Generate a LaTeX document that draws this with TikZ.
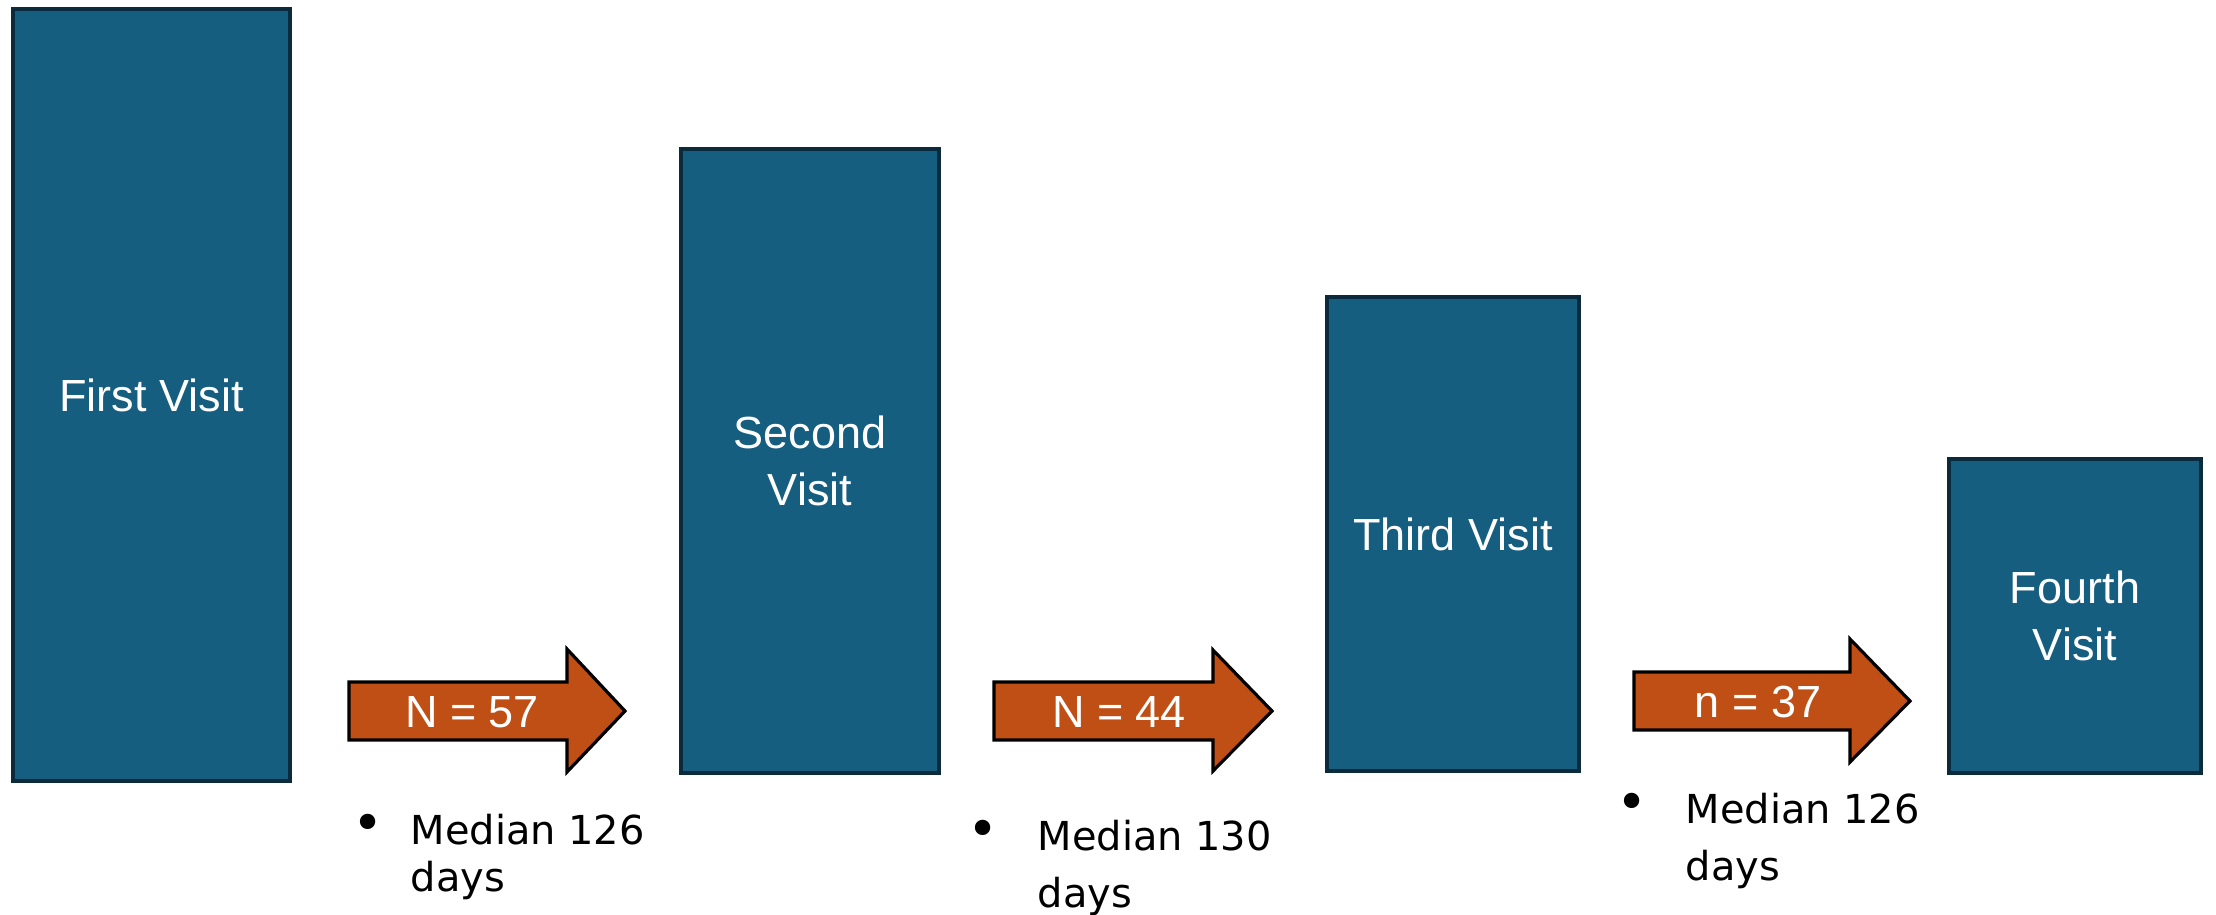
\documentclass[tikz,border=0pt]{standalone}
\usepackage{fontspec}
\setmainfont{Liberation Sans}
\newfontfamily\bulletfont{DejaVu Sans}
\definecolor{visitfill}{HTML}{165E80}
\definecolor{visitline}{HTML}{0B2A3C}
\definecolor{arrowfill}{HTML}{C04F15}
\tikzset{
  visit/.style={draw=visitline, fill=visitfill, line width=1.14pt, text=white,
    align=center, inner sep=0pt, font=\fontsize{12.8}{16.2}\selectfont},
  flowarrow/.style={draw=black, fill=arrowfill, line width=0.9pt, line join=miter},
  arrowlabel/.style={text=white, anchor=base, inner sep=0pt, font=\fontsize{12.8}{15}\selectfont},
  bulletdot/.style={inner sep=0pt, anchor=center, font=\bulletfont\fontsize{15}{15}\selectfont},
  bullettext/.style={inner sep=0pt, anchor=base west, font=\bulletfont\fontsize{11.35}{13.4}\selectfont}
}
\begin{document}
\begin{tikzpicture}[x=0.01cm,y=-0.01cm]
\useasboundingbox (0,0) rectangle (2216,914);
% boxes
\node[visit, minimum width=2.77cm, minimum height=7.72cm] (v1) at (151.5,395) {First Visit};
\node[visit, minimum width=2.58cm, minimum height=6.24cm] (v2) at (810,461) {Second\\Visit};
\node[visit, minimum width=2.52cm, minimum height=4.74cm] (v3) at (1453,534) {Third Visit};
\node[visit, minimum width=2.52cm, minimum height=3.14cm] (v4) at (2075,616) {Fourth\\Visit};
% arrows
\draw[flowarrow] (349,682) -- (567,682) -- (567,649) -- (625,711) -- (567,772) -- (567,740) -- (349,740) -- cycle;
\draw[flowarrow] (994,682) -- (1213,682) -- (1213,650) -- (1272,711) -- (1213,771) -- (1213,740) -- (994,740) -- cycle;
\draw[flowarrow] (1634,672) -- (1850,672) -- (1850,639) -- (1910,701) -- (1850,762) -- (1850,730) -- (1634,730) -- cycle;
\node[arrowlabel] (a1) at (472,727) {N = 57};
\node[arrowlabel] (a2) at (1119,727) {N = 44};
\node[arrowlabel] (a3) at (1758,717) {n = 37};
% bullets
\node[bulletdot] (b1) at (368,828) {•};
\node[bullettext] (m1a) at (410,844) {Median 126};
\node[bullettext] (m1b) at (410,891) {days};
\node[bulletdot] (b2) at (983,834) {•};
\node[bullettext] (m2a) at (1037,850) {Median 130};
\node[bullettext] (m2b) at (1037,907) {days};
\node[bulletdot] (b3) at (1632,807) {•};
\node[bullettext] (m3a) at (1685,823) {Median 126};
\node[bullettext] (m3b) at (1685,880) {days};
\end{tikzpicture}
\end{document}
